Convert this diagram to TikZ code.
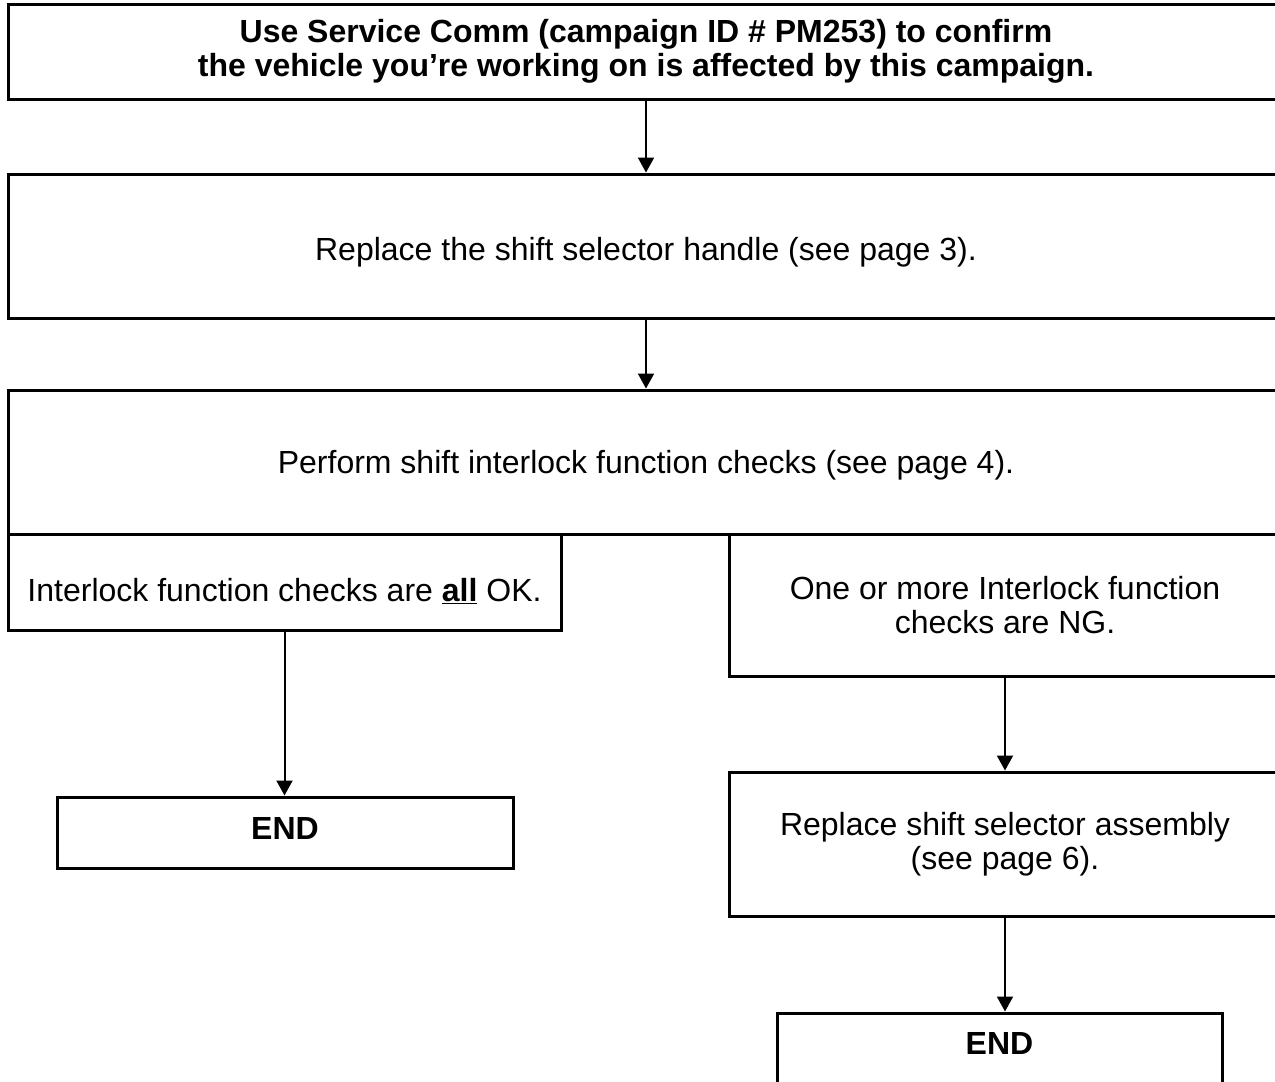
\documentclass[tikz,border=0pt]{standalone}
\usepackage{fontspec}
\setmainfont{Liberation Sans}
\usetikzlibrary{arrows.meta}

\tikzset{every picture/.style={line width=2pt}}
\tikzset{
  stepbox/.style={draw, line width=3pt, inner sep=0pt, align=center,
    font=\fontsize{32}{34}\selectfont},
  flowarrow/.style={line width=2pt, -{Triangle[width=16pt,length=15pt]}}
}

\begin{document}
\begin{tikzpicture}[x=1pt,y=1pt,yscale=-1,xscale=1]
%set diagram to the page and cut the boxes that run off to the right
\path[use as bounding box] (0,0) rectangle (1275,1082);
\clip (0,0) rectangle (1275,1082);

% Boxes
\node (check) [stepbox, minimum width=1276pt, minimum height=95pt] at (646,51.5)
  {\textbf{Use Service Comm (campaign ID \# PM253) to confirm}\\
   \textbf{the vehicle you’re working on is affected by this campaign.}};
\node (handle) [stepbox, minimum width=1276pt, minimum height=144pt, text height=29pt, text depth=0pt] at (646,246)
  {Replace the shift selector handle (see page 3).};
\node (interlock) [stepbox, minimum width=1276pt, minimum height=144pt, text depth=0pt] at (646,462)
  {Perform shift interlock function checks (see page 4).};
\node (allok) [stepbox, minimum width=553pt, minimum height=96pt, text height=38pt, text depth=0pt] at (284.5,582)
  {Interlock function checks are \textbf{\underline{all}} OK.};
\node (oneng) [stepbox, minimum width=552pt, minimum height=142pt] at (1005,605)
  {One or more Interlock function\\checks are NG.};
\node (endok) [stepbox, minimum width=456pt, minimum height=71pt, text depth=8pt] at (285,832.5)
  {\textbf{END}};
\node (assembly) [stepbox, minimum width=552pt, minimum height=144pt] at (1005,844)
  {Replace shift selector assembly\\(see page 6).};
\node (endng) [stepbox, minimum width=445pt, minimum height=72pt, text depth=12pt] at (999.5,1049)
  {\textbf{END}};

% Arrows
\draw [flowarrow] (check.south) -- (handle.north);
\draw [flowarrow] (handle.south) -- (interlock.north);
\draw [flowarrow] (allok.south) -- (allok.south |- endok.north);
\draw [flowarrow] (oneng.south) -- (assembly.north);
\draw [flowarrow] (assembly.south) -- (assembly.south |- endng.north);
\end{tikzpicture}
\end{document}
